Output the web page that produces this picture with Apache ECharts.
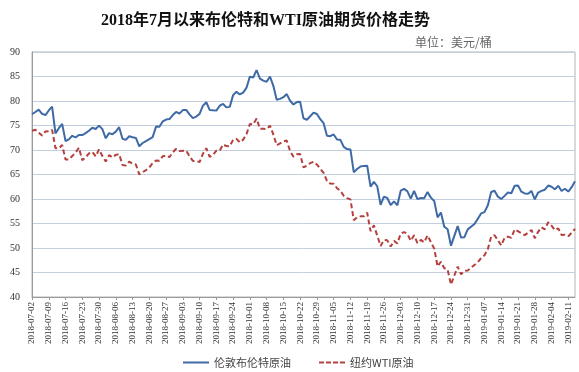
<!DOCTYPE html>
<html>
<head>
<meta charset="utf-8">
<script src="https://cdn.jsdelivr.net/npm/echarts@6/dist/echarts.min.js"></script>
<style>
html,body{margin:0;padding:0;background:#fff;}
#chart{width:579px;height:372px;}
</style>
</head>
<body>
<div id="chart"></div>
<script>
// Weekly tick labels (Mondays)
const weekLabels = ['2018-07-02','2018-07-09','2018-07-16','2018-07-23','2018-07-30','2018-08-06','2018-08-13','2018-08-20','2018-08-27','2018-09-03','2018-09-10','2018-09-17','2018-09-24','2018-10-01','2018-10-08','2018-10-15','2018-10-22','2018-10-29','2018-11-05','2018-11-12','2018-11-19','2018-11-26','2018-12-03','2018-12-10','2018-12-17','2018-12-24','2018-12-31','2019-01-07','2019-01-14','2019-01-21','2019-01-28','2019-02-04','2019-02-11'];

// 伦敦布伦特原油 (daily, weekdays)
const brent = [
77.30,77.76,78.24,77.39,77.11,
78.07,78.86,73.40,74.45,75.33,
71.84,72.16,72.90,72.58,73.07,
73.06,73.44,73.93,74.54,74.29,
74.97,74.25,72.39,73.45,73.21,
73.75,74.65,72.28,72.07,72.81,
72.61,72.46,70.76,71.43,71.83,
72.21,72.63,74.78,74.73,75.82,
76.21,76.31,77.14,77.77,77.42,
78.15,78.17,77.27,76.50,76.83,
77.37,79.06,79.74,78.18,78.09,
78.05,79.03,79.40,78.70,78.80,
81.20,81.87,81.34,81.72,82.72,
84.98,84.80,86.29,84.58,84.16,
83.91,85.00,83.09,80.26,80.43,
80.78,81.41,80.05,79.29,79.78,
79.83,76.44,76.17,76.89,77.62,
77.34,76.31,75.47,72.89,72.83,
73.17,72.13,72.07,70.65,70.18,
70.12,65.47,66.12,66.62,66.76,
66.79,62.53,63.48,62.60,58.80,
60.48,60.21,58.76,59.51,58.71,
61.69,62.08,61.56,60.06,61.67,
59.97,60.20,60.15,61.45,60.28,
59.61,56.26,57.24,54.35,53.82,
50.47,null,54.47,52.16,52.20,
53.80,null,54.91,55.95,57.06,
57.33,58.72,61.44,61.68,60.48,
59.99,60.64,61.32,61.18,62.70,
62.74,61.50,61.14,61.09,61.64,
59.93,61.32,61.65,61.89,62.75,
62.51,61.98,62.69,61.63,62.10,
61.51,62.42,63.61
];

// 纽约WTI原油 (daily, weekdays)
const wti = [
73.94,74.14,null,72.94,73.80,
73.85,74.11,70.38,70.33,71.01,
68.06,68.08,68.76,69.46,70.46,
67.89,68.52,69.30,69.61,68.69,
70.13,68.76,67.66,68.96,68.49,
69.01,69.17,66.94,66.81,67.63,
67.20,67.04,65.01,65.46,65.91,
66.43,67.35,67.86,67.83,68.72,
68.87,68.53,69.51,70.25,69.80,
null,69.87,68.72,67.77,67.75,
67.54,69.25,70.37,68.59,68.99,
69.85,69.85,71.12,70.80,70.78,
72.08,72.28,71.57,72.12,73.25,
75.30,75.23,76.41,74.33,74.34,
74.29,74.96,73.17,70.97,71.34,
71.78,71.92,69.75,68.65,69.12,
69.17,66.43,66.82,67.33,67.59,
67.04,66.18,65.31,63.69,63.14,
63.10,62.21,61.67,60.67,60.19,
59.93,55.69,56.25,56.46,56.46,
57.20,53.43,54.63,null,50.42,
51.63,51.56,50.29,51.45,50.93,
52.95,53.25,52.89,51.49,52.61,
51.00,51.65,51.15,52.58,51.20,
49.88,46.24,47.20,45.88,45.59,
42.53,null,46.22,44.61,45.33,
45.41,null,46.54,47.09,47.96,
48.52,49.78,52.36,52.59,51.59,
50.51,52.11,52.31,52.07,53.80,
null,53.01,52.62,53.13,53.69,
51.99,53.31,54.23,53.79,55.26,
54.56,53.66,54.01,52.64,52.72,
52.41,53.10,53.90
];

const seriesNames = ['伦敦布伦特原油','纽约WTI原油'];
const yTicks = {min:40, max:90, interval:5};

// daily weekday categories built from the weekly labels
function pad(n){return (n<10?'0':'')+n;}
const categories = [];
weekLabels.forEach(function(w){
  const p = w.split('-');
  const d0 = Date.UTC(+p[0], +p[1]-1, +p[2]);
  for (let k=0;k<5;k++){
    const d = new Date(d0 + k*86400000);
    categories.push(d.getUTCFullYear()+'-'+pad(d.getUTCMonth()+1)+'-'+pad(d.getUTCDate()));
  }
});
const cats = categories.slice(0, brent.length);

const solidIcon = 'path://M0,0h26v2h-26z';
const dashIcon = 'path://M0,0h5v2h-5z M7,0h5v2h-5z M14,0h5v2h-5z M21,0h5v2h-5z';

const chart = echarts.init(document.getElementById('chart'), null, {renderer:'canvas'});
chart.setOption({
  animation:false,
  backgroundColor:'#ffffff',
  title:{
    text:'2018年7月以来布伦特和WTI原油期货价格走势',
    left:101, top:13, padding:0,
    textStyle:{fontSize:16, fontWeight:'bold', color:'#111', fontFamily:'"Liberation Serif","Noto Sans CJK SC",serif'}
  },
  graphic:[{
    type:'text', left:415, top:36,
    style:{text:'单位：美元/桶', fill:'#666', font:'12px "Noto Sans CJK SC", sans-serif'}
  }],
  legend:{
    left:178, top:352, itemWidth:26, itemHeight:2, itemGap:28,
    textStyle:{fontSize:11, color:'#444', fontFamily:'"Noto Sans CJK SC","Liberation Serif",sans-serif'},
    data:[{name:seriesNames[0], icon:solidIcon},{name:seriesNames[1], icon:dashIcon}]
  },
  grid:{left:32, top:52, right:4, bottom:75, containLabel:false, show:true, borderColor:'#b4b4b4', borderWidth:1},
  xAxis:{
    type:'category', data:cats, boundaryGap:false,
    axisLine:{lineStyle:{color:'#9a9a9a'}},
    axisTick:{interval:4, length:3, lineStyle:{color:'#9a9a9a'}},
    axisLabel:{interval:4, rotate:90, fontSize:9, color:'#333', margin:5, fontFamily:'"Liberation Serif",serif'},
    splitLine:{show:false}
  },
  yAxis:{
    type:'value', min:yTicks.min, max:yTicks.max, interval:yTicks.interval,
    axisLine:{show:true, lineStyle:{color:'#9a9a9a'}},
    axisTick:{show:false},
    axisLabel:{fontSize:10, color:'#333', margin:12, fontFamily:'"Liberation Serif",serif'},
    splitLine:{lineStyle:{color:'#c3cfdf', width:1}}
  },
  series:[
    {name:seriesNames[0], type:'line', data:brent, symbol:'none', showSymbol:false, connectNulls:true,
     lineStyle:{color:'#3e6aa5', width:2}, itemStyle:{color:'#3e6aa5'}},
    {name:seriesNames[1], type:'line', data:wti, symbol:'none', showSymbol:false, connectNulls:true,
     lineStyle:{color:'#b5413e', width:2, type:[5,3]}, itemStyle:{color:'#b5413e'}}
  ]
});
</script>
</body>
</html>
